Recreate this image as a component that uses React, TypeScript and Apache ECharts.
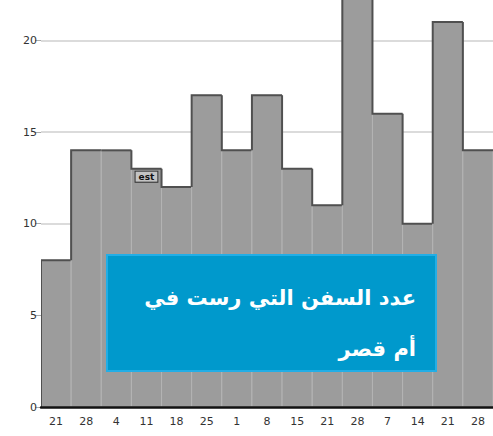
import React, { useEffect, useRef } from "react";
import * as echarts from "echarts";

const categories = ["21", "28", "4", "11", "18", "25", "1", "8", "15", "21", "28", "7", "14", "21", "28"];
const shipCounts = [8, 14, 14, 13, 12, 17, 14, 17, 13, 11, 23, 16, 10, 21, 14];
const yTicks = [0, 5, 10, 15, 20];
const estimateIndex = 3;
const estimateLabel = "est";
const titleLine1 = "عدد السفن التي رست في";
const titleLine2 = "أم قصر";

export default function App() {
  const ref = useRef<HTMLDivElement>(null);
  useEffect(() => {
    if (!ref.current) return;
    const chart = echarts.init(ref.current, undefined, { renderer: "svg" });
    const option: any = {
      animation: false,
      backgroundColor: "#ffffff",
      grid: { left: 41, right: -5, top: 0, bottom: 29, containLabel: false },
      xAxis: {
        type: "category",
        data: categories,
        axisLine: { show: true, onZero: true, lineStyle: { color: "#111", width: 2.5 } },
        axisTick: { show: false },
        axisLabel: { color: "#333", fontSize: 11, margin: 9, fontFamily: "DejaVu Sans", interval: 0 },
        splitLine: { show: false },
        z: 5,
      },
      yAxis: {
        type: "value",
        min: 0,
        max: 22.2,
        interval: 5,
        axisLine: { show: false },
        axisTick: { show: true, length: 6, lineStyle: { color: "#aaa" }, customValues: yTicks },
        axisLabel: {
          color: "#333",
          fontSize: 11,
          margin: 4,
          fontFamily: "DejaVu Sans",
          customValues: yTicks,
          formatter: (v: number) => (yTicks.includes(v) ? String(v) : ""),
        },
        splitLine: { show: true, lineStyle: { color: "#cfcfcf", width: 1.5 } },
      },
      series: [
        {
          type: "custom",
          clip: true,
          data: shipCounts.map((v, i) => [i, v]),
          renderItem: (params: any, api: any) => {
            const i = params.dataIndex;
            const v = api.value(1);
            const prev = i > 0 ? shipCounts[i - 1] : 0;
            const top = api.coord([i, v]);
            const base = api.coord([i, 0])[1];
            const w = api.size([1, 0])[0];
            const x0 = top[0] - w / 2;
            const x1 = top[0] + w / 2;
            const prevY = api.coord([i, prev])[1];
            const children: any[] = [
              {
                type: "rect",
                shape: { x: x0, y: top[1], width: w, height: base - top[1] },
                style: { fill: "#9c9c9c", stroke: "#b4b4b4", lineWidth: 1 },
              },
              {
                type: "polyline",
                shape: { points: [[x0, prevY], [x0, top[1]], [x1, top[1]]] },
                style: { stroke: "#505050", lineWidth: 2, fill: null },
              },
            ];
            if (i === estimateIndex) {
              children.push({
                type: "text",
                x: top[0],
                y: top[1] + 3,
                style: {
                  text: estimateLabel,
                  fill: "#111",
                  font: "bold 9px DejaVu Sans",
                  align: "center",
                  verticalAlign: "top",
                  backgroundColor: "#c4c4c4",
                  borderColor: "#333",
                  borderWidth: 1,
                  padding: [1, 3, 0, 3],
                },
              });
            }
            return { type: "group", children };
          },
          z: 2,
        },
      ],
      graphic: [
        {
          type: "rect",
          shape: { x: 107, y: 255, width: 329, height: 116 },
          style: { fill: "#0099cc", stroke: "#22aee6", lineWidth: 2 },
          z: 10,
        },
        {
          type: "text",
          x: 416,
          y: 298,
          style: {
            text: titleLine1,
            fill: "#ffffff",
            font: "bold 21px 'DejaVu Sans'",
            align: "right",
            verticalAlign: "middle",
          },
          z: 11,
        },
        {
          type: "text",
          x: 416,
          y: 349,
          style: {
            text: titleLine2,
            fill: "#ffffff",
            font: "bold 21px 'DejaVu Sans'",
            align: "right",
            verticalAlign: "middle",
          },
          z: 11,
        },
      ],
    };
    chart.setOption(option);
    return () => chart.dispose();
  }, []);
  return (
    <div style={{ position: "fixed", left: 0, top: 0, width: 493, height: 436, overflow: "hidden" }}>
      <div ref={ref} style={{ width: 493, height: 436 }} />
    </div>
  );
}
